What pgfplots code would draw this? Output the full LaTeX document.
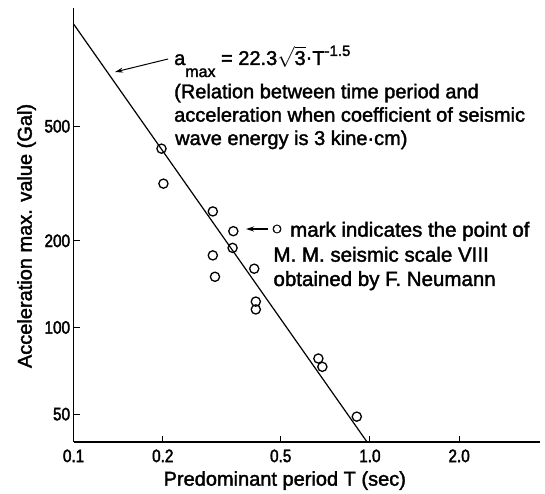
\documentclass[border=0pt]{standalone}
\usepackage{fontspec}
\setmainfont{Liberation Sans}[FakeBold=1.8]
\newfontfamily\ticfont{Liberation Sans}[FakeStretch=0.85, FakeBold=2.2]
\newfontfamily\dejavu{DejaVu Sans}[FakeBold=1.5]
\usepackage{pgfplots}
\pgfplotsset{compat=1.18}
\usetikzlibrary{arrows.meta}
\begin{document}
\begin{tikzpicture}[x=1pt,y=1pt]
\begin{axis}[
 at={(0,0)}, anchor=south west,
 scale only axis, width=466.4pt, height=434pt,
 xmode=log, ymode=log,
 xmin=0.1, xmax=3.75, ymin=40, ymax=1288,
 axis lines=left, axis line style={-, line width=1.3pt},
 xtick={0.1,0.2,0.5,1,2}, xticklabels={0.1,0.2,0.5,1.0,2.0},
 ytick={50,100,200,500}, yticklabels={50,100,200,500},
 minor tick length=0pt,
 tick align=inside, major tick length=6pt, tick style={line width=1.1pt, black},
 ticklabel style={font=\ticfont\fontsize{18}{20}\selectfont},
 xticklabel style={yshift=-4pt},
 xlabel={Predominant period T (sec)},
 ylabel={Acceleration max. value (Gal)},
 label style={font=\fontsize{20}{24}\selectfont},
 xlabel style={at={(axis description cs:0.4528,-0.1007)}, anchor=base},
 ylabel style={at={(axis description cs:-0.0898,0.4747)}, anchor=base},
 clip=false,
]
\addplot[black, line width=1.2pt] coordinates {(0.1,1133) (0.978,40)};
\addplot[only marks, mark=o, mark size=4.6pt, mark options={line width=1.3pt, black}] coordinates {
(0.198,418) (0.201,316) (0.295,253) (0.346,216) (0.344,189) (0.295,178)
(0.407,160) (0.300,150) (0.412,123) (0.412,115.5) (0.670,78) (0.691,73) (0.903,49)
};
\end{axis}
\path (-73.6,-52) rectangle (471.4,442);
\begin{scope}[every node/.style={inner sep=0pt, anchor=base west, font=\fontsize{20}{24}\selectfont}]
\node at (100.4,377) {a\lower12pt\hbox{\fontsize{16}{16}\selectfont max} = 22.3$\sqrt{\mbox{3}}$\raise1pt\hbox{·}T\raise9pt\hbox{\fontsize{15}{15}\selectfont -1.5}};
\node at (100.4,343.7) {(Relation between time period and};
\node at (100.4,320.3) {acceleration when coefficient of seismic};
\node at (101.4,297) {wave energy is 3 kine·cm)};
\end{scope}
\draw[-{Stealth[length=8pt,width=5pt]}, line width=1pt] (94.4,383) -- (41.4,370);
\draw[-{Stealth[length=8pt,width=5pt]}, line width=1.1pt] (194.7,213) -- (172.4,213);
\node[inner sep=0pt] at (203.4,213) {\dejavu\fontsize{11}{11}\selectfont ○};
\begin{scope}[every node/.style={inner sep=0pt, anchor=base west, font=\fontsize{20.5}{24}\selectfont}]
\node at (216.4,205.3) {mark indicates the point of};
\node at (199.7,180.3) {M. M. seismic scale VIII};
\node at (199.7,156) {obtained by F. Neumann};
\end{scope}
\end{tikzpicture}
\end{document}
